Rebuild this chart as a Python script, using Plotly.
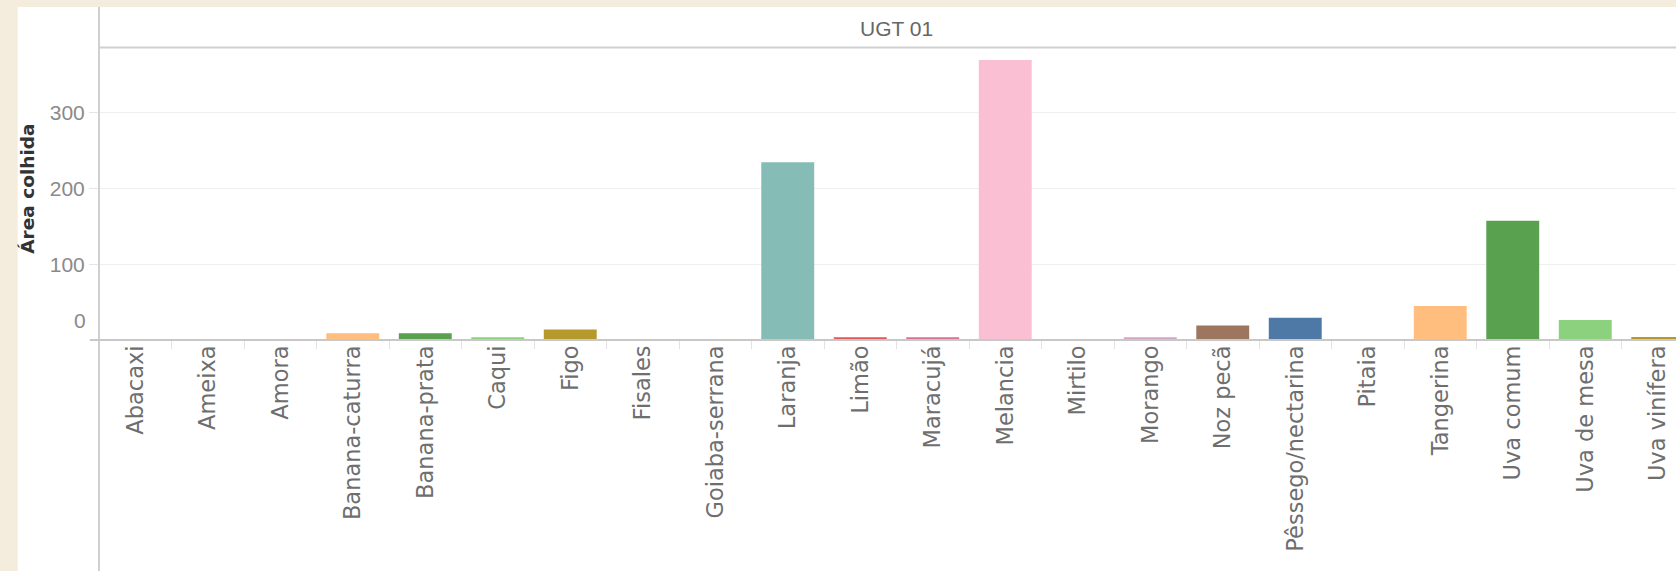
import plotly.graph_objects as go

# ---- data ----
frutas = ["Abacaxi", "Ameixa", "Amora", "Banana-caturra", "Banana-prata", "Caqui",
          "Figo", "Fisales", "Goiaba-serrana", "Laranja", "Limão", "Maracujá",
          "Melancia", "Mirtilo", "Morango", "Noz pecã", "Pêssego/nectarina", "Pitaia",
          "Tangerina", "Uva comum", "Uva de mesa", "Uva vinífera"]
area_colhida = [0, 0, 0, 9, 9, 3.5, 14, 0, 0, 234.5, 3.5, 3.5,
                369.5, 0, 3.5, 19, 29.5, 0, 45, 157.5, 26.5, 4]
cores = ["#4E79A7", "#A0CBE8", "#F28E2B", "#FFBE7D", "#59A14F", "#8CD17D",
         "#B6992D", "#F1CE63", "#499894", "#86BCB6", "#E15759", "#D37295",
         "#FABFD2", "#79706E", "#D4A6C8", "#9D7660", "#4E79A7", "#A0CBE8",
         "#FFBE7D", "#59A14F", "#8CD17D", "#B6992D"]
y_ticks = [0, 100, 200, 300]
y_ticktext = ["", "100", "200", "300"]
painel = "UGT 01"
titulo_y = "Área colhida"

# ---- geometry (pixels) ----
W, H = 1676, 571
L, T, B = 99, 48, 340          # plot left, top, bottom (baseline)
PLOT_W = W - L
PLOT_H = B - T
CAT_W = 72.5                   # pixel width of one category
PX_PER_UNIT = 0.7577

def px_x(p):
    return (p - L) / PLOT_W

def px_y(p):
    return (B - p) / PLOT_H

beige = "#F4ECDC"
grid = "#EFEFEF"
axis_grey = "#D0D0D0"

fig = go.Figure(go.Bar(
    x=frutas, y=area_colhida,
    marker=dict(color=cores, line=dict(width=0)),
    width=0.73,
    hoverinfo="x+y",
))

fig.update_layout(
    width=W, height=H, autosize=False,
    margin=dict(l=L, r=0, t=T, b=H - B, pad=0),
    paper_bgcolor=beige,
    plot_bgcolor="white",
    showlegend=False,
    bargap=0.27,
    xaxis=dict(
        type="category",
        range=[-0.5, -0.5 + PLOT_W / CAT_W],
        tickangle=-90,
        tickson="boundaries",
        ticks="outside", ticklen=8, tickcolor="#E2E2E2", tickwidth=1,
        showgrid=False, showline=False, zeroline=False,
        tickfont=dict(family="DejaVu Sans", size=22.5, color="#6E6E6E"),
        fixedrange=True,
    ),
    yaxis=dict(
        range=[0, PLOT_H / PX_PER_UNIT],
        tickvals=y_ticks, ticktext=y_ticktext,
        ticks="outside", ticklen=9, tickcolor="#E6E6E6", tickwidth=1,
        showgrid=True, gridcolor=grid, gridwidth=1,
        showline=False, zeroline=False,
        tickfont=dict(family="Liberation Sans Narrow, Liberation Sans", size=21, color="#8A8A8A"),
        fixedrange=True,
    ),
    shapes=[
        # white canvas
        dict(type="rect", xref="paper", yref="paper",
             x0=px_x(17.7), x1=1.0, y0=px_y(H + 5), y1=px_y(7),
             fillcolor="white", line=dict(width=0), layer="below"),
        # header bottom line
        dict(type="line", xref="paper", yref="paper",
             x0=0, x1=1, y0=px_y(47.5), y1=px_y(47.5),
             line=dict(color=axis_grey, width=2), layer="above"),
        # left pane line
        dict(type="line", xref="paper", yref="paper",
             x0=0, x1=0, y0=px_y(H + 5), y1=px_y(7),
             line=dict(color=axis_grey, width=2), layer="above"),
        # baseline
        dict(type="line", xref="paper", yref="paper",
             x0=px_x(90), x1=1, y0=0, y1=0,
             line=dict(color="#C8C8C8", width=2), layer="above"),
    ],
    annotations=[
        dict(text=painel, xref="x", yref="paper",
             x=(len(frutas) - 1) / 2, y=px_y(28.7),
             xanchor="center", yanchor="middle", showarrow=False,
             font=dict(family="Liberation Sans Narrow, Liberation Sans", size=21, color="#666666")),
        dict(text=titulo_y, xref="paper", yref="paper",
             x=px_x(26.7), y=px_y(189), textangle=-90,
             xanchor="center", yanchor="middle", showarrow=False,
             font=dict(family="DejaVu Sans", size=18.5, color="#333333", weight="bold")),
        dict(text="0", xref="paper", yref="y",
             x=px_x(87.5), y=0, xanchor="right", yanchor="middle",
             yshift=20, showarrow=False,
             font=dict(family="Liberation Sans Narrow, Liberation Sans", size=21, color="#8A8A8A")),
    ],
)

fig.write_html(
    "out.html",
    config={"displayModeBar": False},
    post_script="document.body.style.margin='0';document.body.style.padding='0';document.body.style.overflow='hidden';",
)
